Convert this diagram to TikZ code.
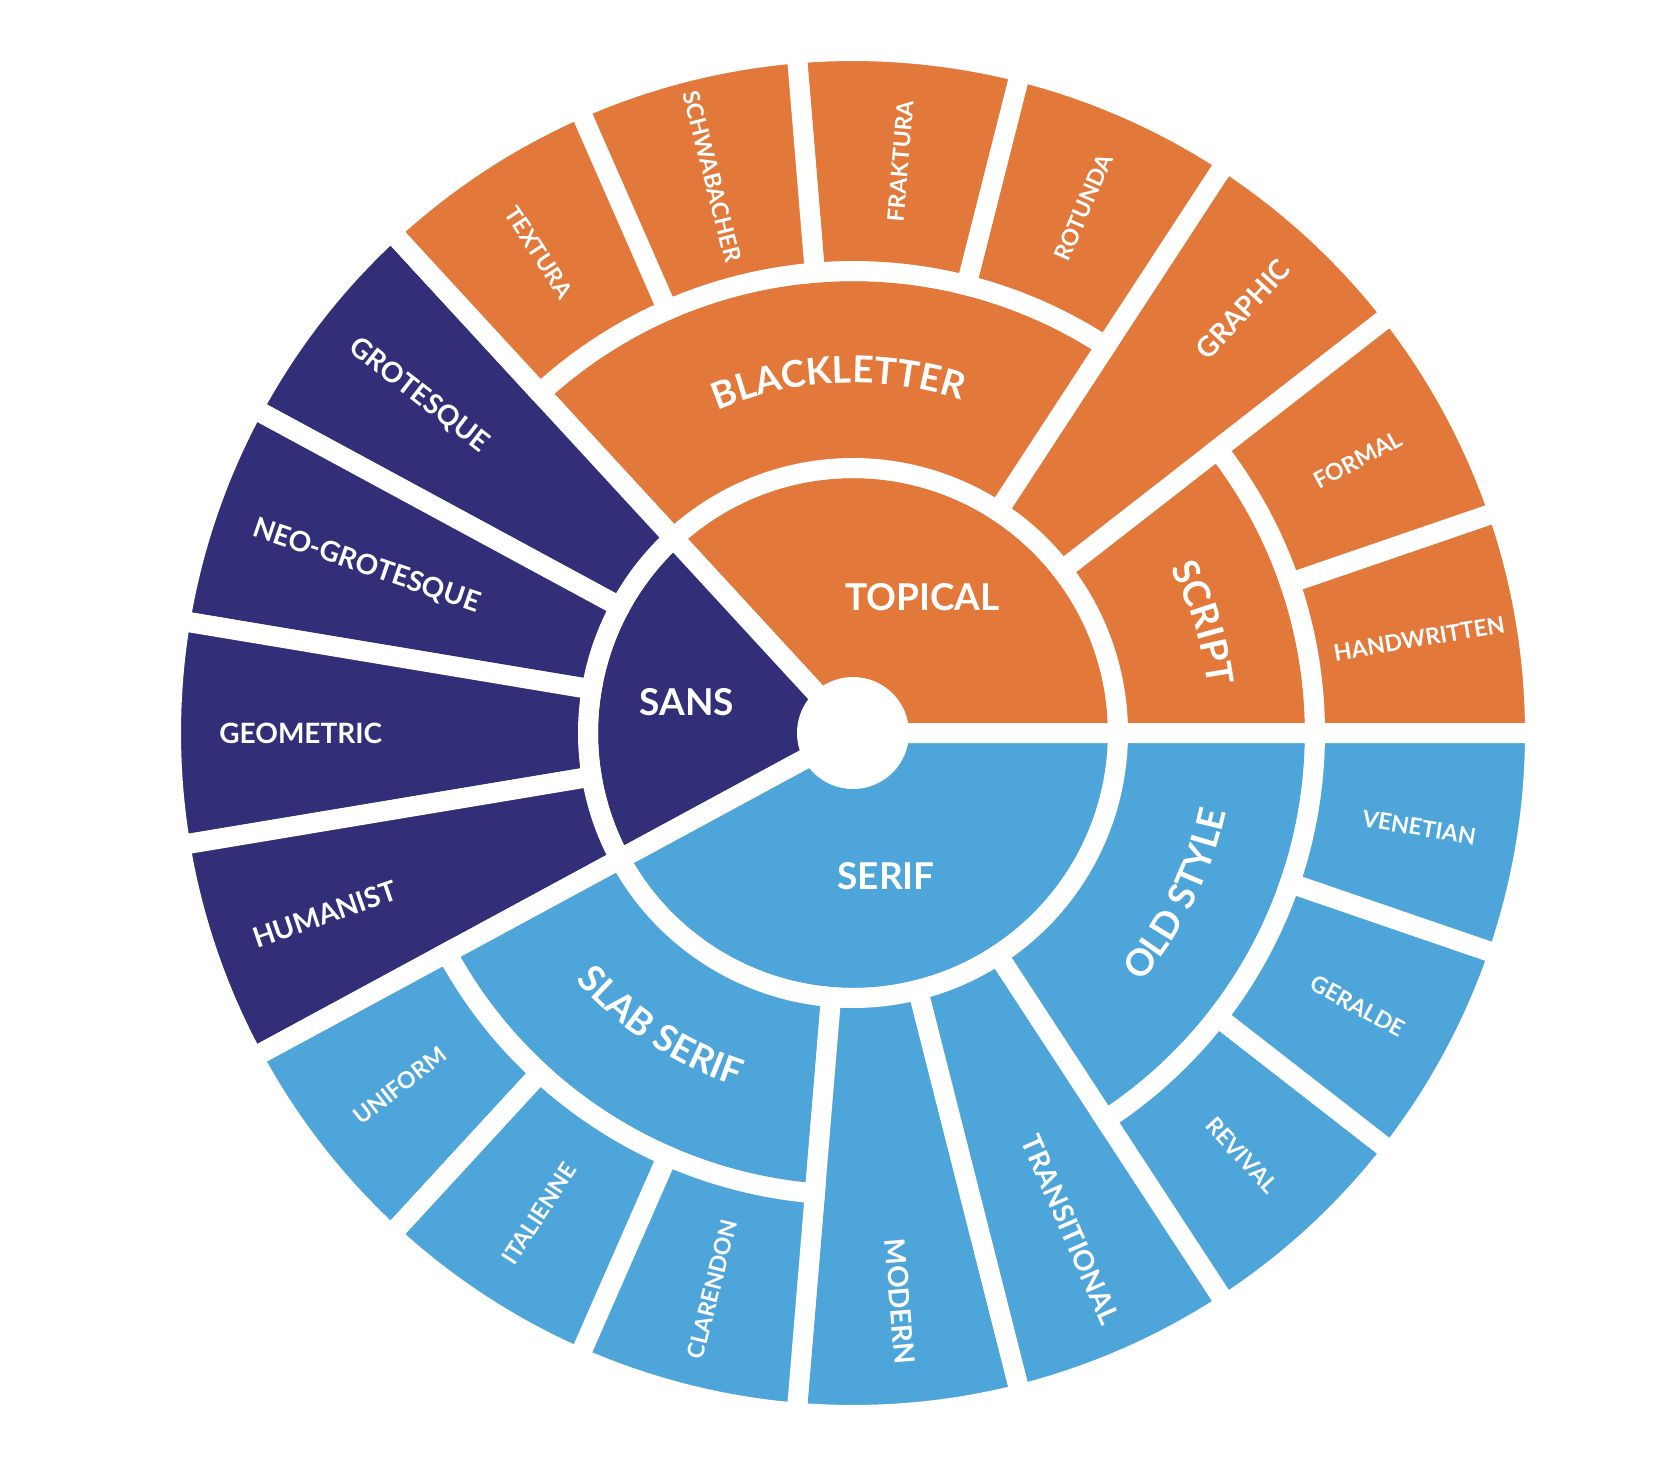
\documentclass[tikz,border=0pt]{standalone}
\usepackage{fontspec}
\setmainfont{Lato}
\usetikzlibrary{decorations.text}
\definecolor{topicorange}{HTML}{E2783A}
\definecolor{sansindigo}{HTML}{332E78}
\definecolor{serifblue}{HTML}{4EA5DA}
\newcommand\ringfont{\fontsize{18.5}{18.5}\selectfont\bfseries}
\newcommand\stepang{18.947368}

\begin{document}
\begin{tikzpicture}[x=0.5pt, y=0.5pt,
    seg/.style={draw=white, line width=10pt},
    hub/.style={text=white, font=\ringfont, inner sep=0pt},
    tip/.style={text=white, font=\fontsize{11.5}{11.5}\selectfont\bfseries, inner sep=0pt},
    limb/.style={text=white, font=\fontsize{14}{14}\selectfont\bfseries, inner sep=0pt},
    arclabel/.style={decorate, decoration={text along path, text align=center, text color=white, text={|\ringfont|#1}}}
]
\useasboundingbox (-853,-747) rectangle (827,733);

% wedges: from/to in steps, inner/outer radius, colour
\foreach \from/\to/\rin/\rout/\col in {
    0/7/46/265/topicorange, 7/11/46/265/sansindigo, 11/19/46/265/serifblue,
    0/2/265/462/topicorange, 2/3/265/682/topicorange, 3/7/265/462/topicorange,
    7/8/265/682/sansindigo, 8/9/265/682/sansindigo, 9/10/265/682/sansindigo, 10/11/265/682/sansindigo,
    11/14/265/462/serifblue, 14/15/265/682/serifblue, 15/16/265/682/serifblue, 16/19/265/462/serifblue,
    0/1/462/682/topicorange, 1/2/462/682/topicorange, 3/4/462/682/topicorange,
    4/5/462/682/topicorange, 5/6/462/682/topicorange, 6/7/462/682/topicorange,
    11/12/462/682/serifblue, 12/13/462/682/serifblue, 13/14/462/682/serifblue,
    16/17/462/682/serifblue, 17/18/462/682/serifblue, 18/19/462/682/serifblue}
  \filldraw[seg, fill=\col] ({\from*\stepang}:\rin) arc[start angle={\from*\stepang}, end angle={\to*\stepang}, radius=\rin]
    -- ({\to*\stepang}:\rout) arc[start angle={\to*\stepang}, end angle={\from*\stepang}, radius=\rout] -- cycle;

\node[hub] (topical) at (63:153) {TOPICAL};
\node[hub] (sans) at (169.5:169) {SANS};
\node[hub] (serif) at (283:147) {SERIF};

\path[arclabel=BLACKLETTER] (130.3:350) arc[start angle=130.3, end angle=54.5, radius=350];
\path[arclabel=SCRIPT] (36.4:358) arc[start angle=36.4, end angle=-1.5, radius=358];
\path[arclabel=SLAB SERIF] ({11*\stepang}:372) arc[start angle={11*\stepang}, end angle={14*\stepang}, radius=372];
\path[arclabel=OLD STYLE] (305.2:381) arc[start angle=305.2, end angle=362, radius=381];

\node[limb, rotate=47.37, anchor=east] (graphic) at (47.37:638) {GRAPHIC};
\node[limb, rotate=-37.89, anchor=west] (grotesque) at (142.11:634) {GROTESQUE};
\node[limb, rotate=-18.95, anchor=west] (neogrotesque) at (161.05:634) {NEO-GROTESQUE};
\node[limb, anchor=west] (geometric) at (180:634) {GEOMETRIC};
\node[limb, rotate=18.95, anchor=west] (humanist) at (198.95:634) {HUMANIST};
\node[limb, rotate=-85.26, anchor=east] (modern) at (274.74:634) {MODERN};
\node[limb, rotate=-66.32, anchor=east] (transitional) at (293.68:644) {TRANSITIONAL};

\node[tip, rotate=9.47] (handwritten) at (9.47:574) {HANDWRITTEN};
\node[tip, rotate=28.42] (formal) at (28.42:574) {FORMAL};
\node[tip, rotate=66.32] (rotunda) at (66.32:574) {ROTUNDA};
\node[tip, rotate=85.26] (fraktura) at (85.26:574) {FRAKTURA};
\node[tip, rotate=-75.79] (schwabacher) at (104.21:574) {SCHWABACHER};
\node[tip, rotate=-56.84] (textura) at (123.16:574) {TEXTURA};
\node[tip, rotate=37.89] (uniform) at (217.89:574) {UNIFORM};
\node[tip, rotate=56.84] (italienne) at (236.84:574) {ITALIENNE};
\node[tip, rotate=75.79] (clarendon) at (255.79:574) {CLARENDON};
\node[tip, rotate=-47.37] (revival) at (312.63:574) {REVIVAL};
\node[tip, rotate=-28.42] (geralde) at (331.58:574) {GERALDE};
\node[tip, rotate=-9.47] (venetian) at (350.53:574) {VENETIAN};
\end{tikzpicture}
\end{document}
